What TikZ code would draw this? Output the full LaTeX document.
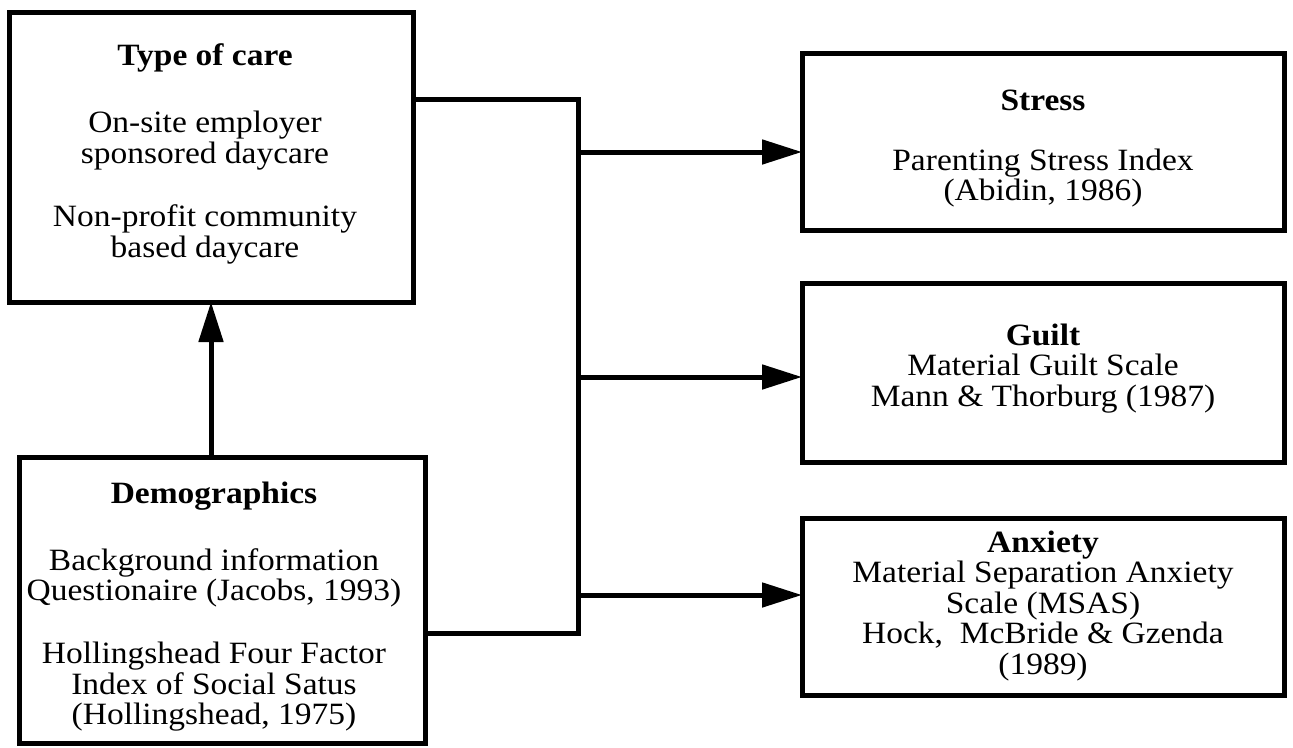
\documentclass[tikz,border=0pt]{standalone}
\usepackage{fontspec}
\setmainfont{Liberation Serif}[FakeStretch=1.08]
\usetikzlibrary{arrows.meta,positioning}

\tikzset{
  box/.style={draw,line width=5pt,outer sep=0pt,inner sep=0pt},
  boxtext/.style={align=center,inner sep=0pt,font=\fontsize{31}{30.5}\selectfont},
  wire/.style={line width=5pt},
  arr/.style={line width=5pt,-{Triangle[length=40pt,width=24pt]}}
}
\newcommand{\firstline}{\rule{0pt}{23pt}}

\begin{document}
\begin{tikzpicture}[x=1pt,y=-1pt]
\useasboundingbox (0,0) rectangle (1293,747);
% boxes
\node[box,minimum width=404pt,minimum height=290pt] (care) at (211,157) {};
\node[box,minimum width=406pt,minimum height=286pt] (demo) at (222,600) {};
\node[box,minimum width=482pt,minimum height=177pt] (stress) at (1043,141.5) {};
\node[box,minimum width=482pt,minimum height=179pt] (guilt) at (1043,372.5) {};
\node[box,minimum width=482pt,minimum height=177pt] (anx) at (1043,606.5) {};
% texts
\node[boxtext,below=30pt of care.north,xshift=-6pt] (careText)
  {\firstline\textbf{Type of care}\\[37pt] On-site employer\\ sponsored daycare\\[33pt]
   Non-profit community\\ based daycare};
\node[boxtext,below=23pt of demo.north,xshift=-8pt] (demoText)
  {\firstline\textbf{Demographics}\\[36.5pt] Background information\\ Questionaire (Jacobs, 1993)\\[32.5pt]
   Hollingshead Four Factor\\ Index of Social Satus\\ (Hollingshead, 1975)};
\node[boxtext,below=34pt of stress.north] (stressText)
  {\firstline\textbf{Stress}\\[29.5pt] Parenting Stress Index\\ (Abidin, 1986)};
\node[boxtext,below=39pt of guilt.north] (guiltText)
  {\firstline\textbf{Guilt}\\ Material Guilt Scale\\ Mann \& Thorburg (1987)};
\node[boxtext,below=11pt of anx.north] (anxText)
  {\firstline\textbf{Anxiety}\\ Material Separation Anxiety\\ Scale (MSAS)\\
   Hock,\ \ McBride \& Gzenda\\ (1989)};
% connectors
\draw[arr] (care.south |- demo.north) -- (care.south);
\coordinate (busTop) at (578,99);
\coordinate (busBot) at (578,633);
\draw[wire] (care.east |- busTop) -- (busTop) -- (busBot) -- (demo.east |- busBot);
\foreach \tgt/\y in {stress/152,guilt/377,anx/595}{
  \coordinate (tap\tgt) at (578,\y);
  \draw[arr] (tap\tgt) -- (\tgt.west |- tap\tgt);
}
\end{tikzpicture}
\end{document}
